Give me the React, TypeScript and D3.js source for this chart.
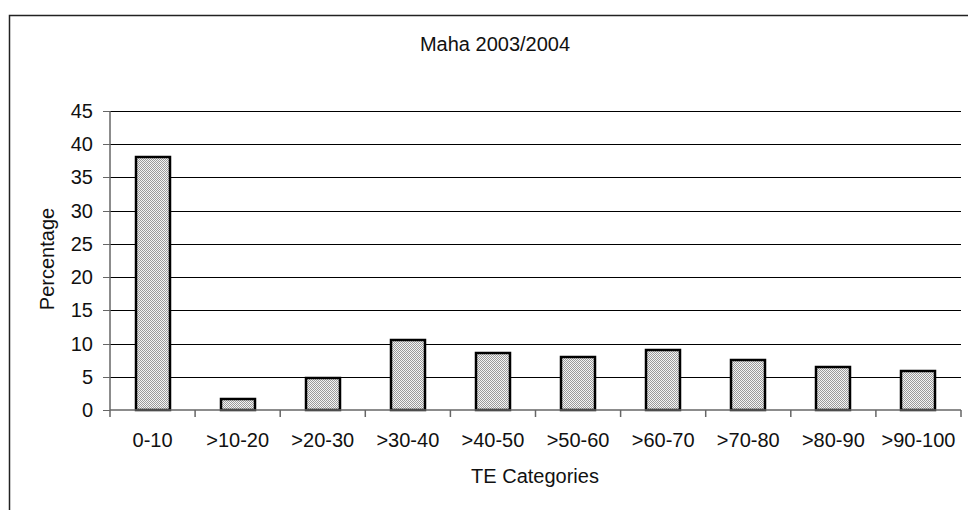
import React from "react";
import * as d3 from "d3";

const categories = [
  "0-10",
  ">10-20",
  ">20-30",
  ">30-40",
  ">40-50",
  ">50-60",
  ">60-70",
  ">70-80",
  ">80-90",
  ">90-100",
];
const percentages = [38.1, 1.6, 4.8, 10.5, 8.6, 8.0, 9.0, 7.5, 6.4, 5.9];
const yTicks = [0, 5, 10, 15, 20, 25, 30, 35, 40, 45];

const width = 968;
const height = 510;
const plot = { left: 110, right: 961, top: 111, bottom: 410 };
const font = "Arial, 'Liberation Sans', sans-serif";

const App = () => {
  const x = d3
    .scaleBand()
    .domain(categories)
    .range([plot.left, plot.right])
    .paddingInner(0.6)
    .paddingOuter(0.3);
  const band = d3.scaleBand().domain(categories).range([plot.left, plot.right]);
  const y = d3.scaleLinear().domain([0, 45]).range([plot.bottom, plot.top]);

  return (
    <svg
      width={width}
      height={height}
      style={{ position: "absolute", left: 0, top: 0 }}
      fontFamily={font}
    >
      <defs>
        <pattern id="hatch" width="2" height="2" patternUnits="userSpaceOnUse">
          <rect width="2" height="2" fill="#f4f4f4" shapeRendering="crispEdges" />
          <rect width="1" height="1" fill="#9a9a9a" shapeRendering="crispEdges" />
          <rect x="1" y="1" width="1" height="1" fill="#9a9a9a" shapeRendering="crispEdges" />
        </pattern>
      </defs>
      <rect width={width} height={height} fill="#fff" />
      <rect
        x={9.5}
        y={15.5}
        width={975}
        height={510}
        fill="none"
        stroke="#222"
        strokeWidth={1.5}
      />
      <text x={495} y={51} textAnchor="middle" fontSize={20} fill="#111">
        Maha 2003/2004
      </text>

      {/* gridlines */}
      {yTicks
        .filter((t) => t > 0)
        .map((t) => (
          <line
            key={t}
            x1={plot.left}
            x2={plot.right}
            y1={Math.round(y(t)) + 0.5}
            y2={Math.round(y(t)) + 0.5}
            stroke="#000"
            strokeWidth={1}
          />
        ))}

      {/* y axis */}
      <line
        x1={plot.left}
        x2={plot.left}
        y1={plot.top}
        y2={plot.bottom}
        stroke="#666"
        strokeWidth={1.5}
      />
      {yTicks.map((t) => (
        <g key={t}>
          <line
            x1={plot.left - 7}
            x2={plot.left}
            y1={Math.round(y(t)) + 0.5}
            y2={Math.round(y(t)) + 0.5}
            stroke="#666"
            strokeWidth={1}
          />
          <text
            x={93}
            y={y(t)}
            dy="0.35em"
            textAnchor="end"
            fontSize={20}
            fill="#111"
          >
            {t}
          </text>
        </g>
      ))}
      <text
        transform={`translate(54,259) rotate(-90)`}
        textAnchor="middle"
        fontSize={20}
        fill="#111"
      >
        Percentage
      </text>

      {/* bars */}
      {categories.map((c, i) => {
        const bx = Math.round(x(c) as number);
        const by = Math.round(y(percentages[i]));
        return (
          <rect
            key={c}
            x={bx}
            y={by}
            width={Math.round(x.bandwidth())}
            height={Math.round(y(0)) - by}
            fill="url(#hatch)"
            stroke="#000"
            strokeWidth={2.5}
          />
        );
      })}

      {/* x axis */}
      <line
        x1={plot.left}
        x2={plot.right}
        y1={plot.bottom}
        y2={plot.bottom}
        stroke="#666"
        strokeWidth={1.5}
      />
      {[...categories.map((c) => band(c) as number), plot.right].map((tx, i) => (
        <line
          key={i}
          x1={tx}
          x2={tx}
          y1={plot.bottom}
          y2={plot.bottom + 7}
          stroke="#666"
          strokeWidth={1.5}
        />
      ))}
      {categories.map((c) => (
        <text
          key={c}
          x={(band(c) as number) + band.bandwidth() / 2}
          y={447}
          textAnchor="middle"
          fontSize={20}
          fill="#111"
        >
          {c}
        </text>
      ))}
      <text x={535} y={483} textAnchor="middle" fontSize={20} fill="#111">
        TE Categories
      </text>
    </svg>
  );
};

export default App;
